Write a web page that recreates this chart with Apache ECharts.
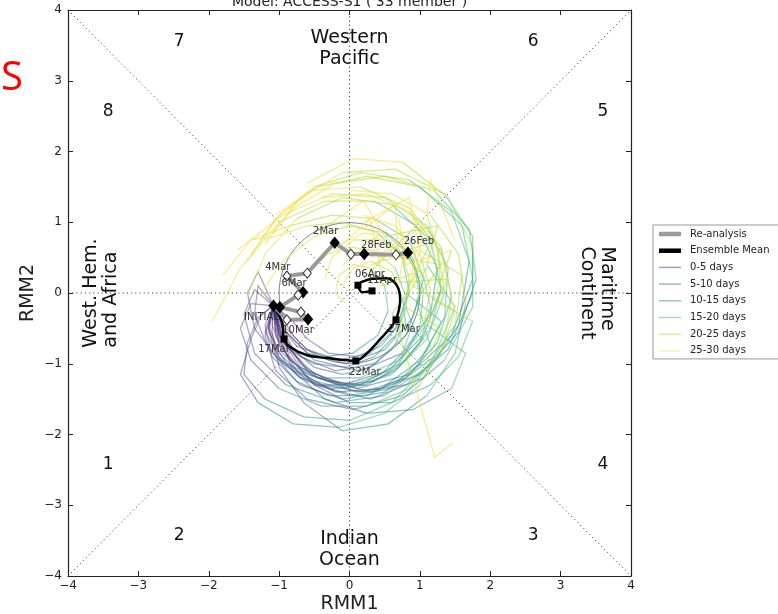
<!DOCTYPE html>
<html><head><meta charset="utf-8">
<script src="https://cdn.jsdelivr.net/npm/echarts@6/dist/echarts.min.js"></script>
<style>html,body{margin:0;padding:0;background:#fff}#c{width:778px;height:614px}</style>
</head><body><div id="c"></div>
<script>
// ---------------- DATA ----------------
const axisTicks = [-4, -3, -2, -1, 0, 1, 2, 3, 4];
const axisNames = ['RMM1', 'RMM2'];
const leadBins = ['0-5 days', '5-10 days', '10-15 days', '15-20 days', '20-25 days', '25-30 days'];
const leadDays = [0, 2.5, 5, 7.5, 10, 12.5, 15, 17.5, 20, 22.5, 25, 27.5, 30];

const reanalysisTrack = [[0.83,0.57],[0.66,0.54],[0.21,0.55],[0.02,0.55],[-0.21,0.71],[-0.60,0.28],[-0.89,0.24],[-0.66,0.01],[-0.73,-0.03],[-0.99,-0.20],[-0.69,-0.27],[-0.59,-0.37],[-0.89,-0.38],[-1.08,-0.18]];
const reanalysisFilled = [1,0,1,0,1,0,0,1,0,1,0,1,0,1];
const reanalysisDates = ['26Feb','','28Feb','','2Mar','','4Mar','6Mar','','','','10Mar','','INITIAL'];

const meanTrack = [[-1.08,-0.18],[-0.96,-0.41],[-0.93,-0.65],[-0.85,-0.76],[-0.60,-0.88],[-0.32,-0.92],[0.09,-0.96],[0.25,-0.85],[0.43,-0.66],[0.58,-0.49],[0.66,-0.38],[0.72,-0.10],[0.67,0.11],[0.53,0.21],[0.32,0.20],[0.12,0.11],[0.18,0.01],[0.32,0.03]];
const meanDates = ['','','17Mar','','','','22Mar','','','','27Mar','','','01Apr','','06Apr','','11Apr'];
const meanMarked = [0,0,1,0,0,0,1,0,0,0,1,0,0,0,0,1,0,1];

const member01 = [[-1.08,-0.18],[-1.15,-0.45],[-1.0,-0.85],[-0.6,-1.25],[0.0,-1.45],[0.6,-1.35],[1.2,-0.9],[1.5,-0.2],[1.1,0.4],[1.25,0.95],[0.5,0.8],[0.2,1.3],[-0.4,0.9]];
const member02 = [[-1.08,-0.18],[-1.0,-0.6],[-0.6,-1.1],[0.1,-1.35],[0.85,-1.15],[1.45,-0.6],[1.75,0.2],[1.6,0.95],[1.0,1.5],[0.25,1.65],[-0.45,1.5],[-1.0,1.1],[-1.4,0.55]];
const member03 = [[-1.08,-0.18],[-1.0,-0.6],[-0.7,-1.05],[-0.1,-1.3],[0.55,-1.1],[1.05,-0.6],[1.3,0.05],[1.15,0.75],[0.6,1.25],[-0.1,1.35],[-0.75,1.05],[-1.2,0.55],[-1.45,-0.05]];
const member04 = [[-1.08,-0.18],[-0.95,-0.5],[-0.8,-0.8],[-0.5,-1.05],[-0.1,-1.15],[0.3,-1.05],[0.6,-0.8],[0.8,-0.45],[0.75,-0.05],[0.6,0.3],[0.3,0.45],[0.05,0.35],[-0.1,0.1]];
const member05 = [[-1.08,-0.18],[-1.3,-0.35],[-1.45,-0.7],[-1.5,-1.15],[-1.2,-1.5],[-0.65,-1.75],[0.0,-1.8],[0.6,-1.55],[1.05,-1.1],[1.3,-0.5],[0.8,-0.2],[0.95,0.6],[0.3,0.4]];
const member06 = [[-1.08,-0.18],[-1.0,-0.75],[-0.5,-1.3],[0.3,-1.5],[1.05,-1.2],[1.55,-0.45],[1.7,0.45],[1.45,1.15],[0.85,1.6],[0.15,1.7],[-0.5,1.5],[-1.05,1.05],[-1.45,0.45]];
const member07 = [[-1.08,-0.18],[-1.2,-0.55],[-0.95,-1.0],[-0.45,-1.3],[0.15,-1.3],[0.7,-1.0],[1.0,-0.5],[1.05,0.05],[0.85,0.5],[0.45,0.75],[0.05,0.75],[-0.25,0.5],[-0.35,0.2]];
const member08 = [[-1.08,-0.18],[-1.35,0.05],[-1.5,-0.3],[-1.35,-0.85],[-0.9,-1.3],[-0.2,-1.55],[0.5,-1.45],[1.1,-1.05],[1.5,-0.45],[1.6,0.25],[1.0,0.6],[0.85,1.35],[0.2,1.0]];
const member09 = [[-1.08,-0.18],[-1.05,-0.55],[-0.85,-0.95],[-0.45,-1.2],[0.05,-1.3],[0.45,-1.15],[0.75,-0.85],[0.9,-0.45],[0.8,-0.2],[0.7,-0.55],[0.9,-1.2],[1.21,-2.32],[1.47,-2.12]];
const member10 = [[-1.08,-0.18],[-0.9,-0.55],[-0.5,-0.95],[0.15,-1.1],[0.75,-0.85],[1.15,-0.3],[1.25,0.35],[0.95,0.95],[0.35,1.3],[-0.35,1.3],[-1.0,1.0],[-1.55,0.35],[-1.95,-0.4]];
const member11 = [[-1.08,-0.18],[-1.2,-0.6],[-1.05,-1.1],[-0.6,-1.5],[0.05,-1.65],[0.75,-1.45],[1.35,-0.95],[1.75,-0.2],[1.75,0.65],[1.4,1.35],[0.75,1.85],[0.05,1.9],[-0.6,1.55]];
const member12 = [[-1.08,-0.18],[-1.15,-0.5],[-1.05,-0.9],[-0.75,-1.25],[-0.3,-1.45],[0.25,-1.45],[0.75,-1.2],[1.15,-0.75],[0.95,-0.1],[1.3,0.4],[0.7,0.5],[0.65,1.25],[0.2,0.9]];
const member13 = [[-1.08,-0.18],[-1.0,-0.45],[-0.75,-0.75],[-0.35,-0.9],[0.05,-0.85],[0.4,-0.6],[0.55,-0.25],[0.5,0.1],[0.3,0.35],[0.05,0.4],[-0.15,0.25],[-0.2,0.0],[-0.05,-0.15]];
const member14 = [[-1.08,-0.18],[-1.25,-0.3],[-1.4,-0.65],[-1.55,-1.15],[-1.3,-1.55],[-0.8,-1.85],[-0.15,-1.9],[0.5,-1.7],[1.0,-1.3],[1.35,-0.7],[1.45,-0.05],[1.3,0.6],[0.9,1.05]];
const member15 = [[-1.08,-0.18],[-1.05,-0.6],[-0.75,-1.1],[-0.2,-1.4],[0.45,-1.35],[1.0,-0.95],[1.35,-0.35],[1.4,0.35],[1.1,0.95],[0.5,1.35],[-0.25,1.4],[-0.95,1.1],[-1.6,0.6]];
const member16 = [[-1.08,-0.18],[-0.95,-0.7],[-0.45,-1.2],[0.3,-1.4],[1.0,-1.15],[1.55,-0.55],[1.8,0.2],[1.7,0.9],[1.2,1.45],[0.5,1.65],[-0.2,1.55],[-0.8,1.2],[-1.2,0.7]];
const member17 = [[-1.08,-0.18],[-0.95,-0.6],[-0.7,-1.0],[-0.3,-1.25],[0.2,-1.3],[0.65,-1.1],[1.0,-0.7],[1.15,-0.2],[1.05,0.25],[0.8,0.5],[0.55,0.55],[0.35,0.4],[0.3,0.15]];
const member18 = [[-1.08,-0.18],[-1.3,0.1],[-1.35,-0.3],[-1.15,-0.8],[-0.7,-1.2],[-0.05,-1.35],[0.6,-1.15],[1.1,-0.65],[1.35,0.0],[1.25,0.65],[0.85,1.15],[0.25,1.4],[-0.4,1.35]];
const member19 = [[-1.08,-0.18],[-0.85,-0.35],[-0.6,-0.65],[-0.3,-0.85],[0.1,-0.9],[0.45,-0.75],[0.7,-0.45],[0.8,-0.05],[0.65,0.35],[0.35,0.6],[0.0,0.65],[-0.3,0.55],[-0.55,0.35]];
const member20 = [[-1.08,-0.18],[-1.1,-0.55],[-1.0,-1.05],[-0.65,-1.55],[-0.1,-1.95],[0.55,-1.85],[1.1,-1.45],[1.5,-0.85],[1.65,-0.15],[1.55,0.55],[1.15,1.1],[0.6,1.4],[0.0,1.45]];
const member21 = [[-1.08,-0.18],[-1.0,-0.6],[-0.8,-1.1],[-0.35,-1.5],[0.25,-1.7],[0.9,-1.65],[1.45,-1.35],[1.65,-0.85],[1.1,-0.45],[1.4,0.2],[0.7,0.15],[0.8,0.7],[0.3,0.5]];
const member22 = [[-1.08,-0.18],[-0.95,-0.5],[-0.6,-0.85],[-0.05,-1.0],[0.5,-0.8],[0.9,-0.35],[1.05,0.2],[0.85,0.75],[0.35,1.05],[-0.25,1.1],[-0.85,0.95],[-1.4,0.75],[-1.8,0.25]];
const member23 = [[-1.08,-0.18],[-1.15,-0.55],[-0.9,-1.0],[-0.4,-1.3],[0.2,-1.4],[0.8,-1.2],[1.25,-0.7],[1.45,-0.05],[1.3,0.65],[0.85,1.2],[0.15,1.5],[-0.55,1.45],[-1.05,1.1]];
const member24 = [[-1.08,-0.18],[-1.1,-0.45],[-0.95,-0.85],[-0.6,-1.15],[-0.15,-1.3],[0.35,-1.25],[0.8,-0.95],[1.15,-0.5],[1.3,0.05],[1.25,0.6],[1.1,1.1],[1.15,1.6],[1.5,0.75]];
const member25 = [[-1.08,-0.18],[-1.05,-0.5],[-0.85,-0.8],[-0.5,-1.0],[-0.05,-1.05],[0.35,-0.9],[0.65,-0.6],[0.8,-0.2],[0.85,0.2],[0.75,0.55],[0.5,0.8],[0.2,0.85],[-0.1,0.7]];
const member26 = [[-1.08,-0.18],[-1.4,-0.15],[-1.55,-0.5],[-1.4,-0.95],[-1.0,-1.35],[-0.4,-1.6],[0.25,-1.6],[0.85,-1.35],[1.3,-0.85],[1.5,-0.25],[0.9,0.1],[1.05,0.95],[0.5,0.6]];
const member27 = [[-1.08,-0.18],[-0.95,-0.65],[-0.55,-1.15],[0.1,-1.4],[0.8,-1.3],[1.4,-0.8],[1.75,0.0],[1.75,0.8],[1.35,1.4],[0.65,1.75],[-0.1,1.7],[-0.7,1.35],[-1.1,0.85]];
const member28 = [[-1.08,-0.18],[-1.0,-0.55],[-0.7,-0.9],[-0.2,-1.1],[0.35,-1.0],[0.8,-0.6],[1.0,-0.05],[0.9,0.5],[0.5,0.85],[0.0,0.95],[-0.5,0.8],[-0.95,0.45],[-1.25,0.0]];
const member29 = [[-1.08,-0.18],[-1.2,-0.45],[-1.1,-0.9],[-0.7,-1.3],[-0.1,-1.5],[0.5,-1.4],[1.0,-1.0],[1.3,-0.4],[0.8,0.0],[1.15,0.7],[0.4,0.5],[0.3,1.05],[-0.2,0.6]];
const member30 = [[-1.08,-0.18],[-1.0,-0.5],[-0.85,-0.9],[-0.5,-1.3],[0.0,-1.55],[0.6,-1.55],[1.15,-1.3],[1.55,-0.9],[1.75,-0.4],[1.2,-0.1],[1.45,0.6],[0.8,0.4],[0.7,1.05]];
const member31 = [[-1.08,-0.18],[-1.3,0.3],[-1.45,0.0],[-1.35,-0.5],[-1.0,-0.95],[-0.45,-1.2],[0.15,-1.2],[0.7,-0.95],[1.05,-0.5],[1.15,0.05],[1.0,0.55],[0.65,0.95],[0.2,1.1]];
const member32 = [[-1.08,-0.18],[-0.9,-0.5],[-0.6,-0.8],[-0.15,-0.95],[0.3,-0.85],[0.65,-0.5],[0.85,0.0],[0.75,0.5],[0.4,0.85],[-0.1,1.0],[-0.6,0.95],[-1.05,0.8],[-1.4,0.75]];
const member33 = [[-1.08,-0.18],[-1.15,-0.5],[-1.0,-0.9],[-0.7,-1.2],[-0.25,-1.35],[0.25,-1.3],[0.7,-1.05],[1.05,-0.65],[0.6,-0.3],[1.1,0.35],[0.45,0.1],[0.4,0.8],[-0.1,0.4]];
const members = [member01,member02,member03,member04,member05,member06,member07,member08,member09,member10,member11,member12,member13,member14,member15,member16,member17,member18,member19,member20,member21,member22,member23,member24,member25,member26,member27,member28,member29,member30,member31,member32,member33];

const phaseNames = ['1','2','3','4','5','6','7','8'];
const titleText = 'Model: ACCESS-S1 ( 33 member )';

// ---------------- STYLE / LAYOUT ----------------
const FONT = 'DejaVu Sans';
const binColors = ['#482878', '#3e5a8f', '#25898c', '#3fbc73', '#b0dd2f', '#f3e04a'];
const binOpacity = [0.42, 0.5, 0.5, 0.5, 0.55, 0.6];
const labelOffsets = {
  '26Feb':[11,-11], '28Feb':[12,-9], '2Mar':[-9,-11], '4Mar':[-9,-9], '6Mar':[-9,-9],
  '10Mar':[-10,11], 'INITIAL':[-12,12],
  '17Mar':[-10,10], '22Mar':[9,11], '27Mar':[8,10], '01Apr':[5,-11], '06Apr':[12,-11], '11Apr':[10,-10]
};
const phasePos = [[-3.43,-2.42],[-2.42,-3.43],[2.61,-3.43],[3.60,-2.42],[3.60,2.57],[2.61,3.56],[-2.42,3.56],[-3.43,2.57]];

const minusFmt = v => v < 0 ? '\u2212' + (-v) : String(v);

const chart = echarts.init(document.getElementById('c'), null, {renderer: 'canvas'});

const binSeries = leadBins.map((name, b) => ({
  type: 'lines', name, coordinateSystem: 'cartesian2d', polyline: true, silent: true, z: 2,
  lineStyle: {color: binColors[b], width: 1.3, opacity: binOpacity[b]},
  data: members.map(m => ({coords: m.filter((p, i) => leadDays[i] >= b * 5 && leadDays[i] <= b * 5 + 5)}))
}));

const labelStyle = {fontSize: 10, color: '#333', fontFamily: FONT};

const refLine = (pts) => ({
  type: 'line', data: pts, symbol: 'none', silent: true, z: 1,
  lineStyle: {color: '#444', width: 1, type: [1.2, 3]}
});

const axisCommon = {
  type: 'value', min: axisTicks[0], max: axisTicks[axisTicks.length - 1], interval: 1,
  splitLine: {show: false},
  axisLine: {show: true, onZero: false, lineStyle: {color: '#222', width: 1.2}},
  axisTick: {show: true, inside: true, length: 5, lineStyle: {color: '#222'}}
};

const option = {
  animation: false,
  backgroundColor: '#fff',
  grid: {left: 68, right: 147, top: 10, bottom: 38},
  xAxis: [
    Object.assign({}, axisCommon, {position: 'bottom',
      axisLabel: {fontSize: 12, color: '#222', fontFamily: FONT, margin: 4, formatter: minusFmt}}),
    Object.assign({}, axisCommon, {position: 'top', axisLabel: {show: false}})
  ],
  yAxis: [
    Object.assign({}, axisCommon, {position: 'left',
      axisLabel: {fontSize: 12, color: '#222', fontFamily: FONT, margin: 6, formatter: minusFmt}}),
    Object.assign({}, axisCommon, {position: 'right', axisLabel: {show: false}})
  ],
  legend: {
    orient: 'vertical', left: 653, top: 225, padding: [3, 40, 2, 6], itemGap: 4.7,
    itemWidth: 22, itemHeight: 12, borderColor: '#999', borderWidth: 1, borderRadius: 0,
    backgroundColor: '#fff', selectedMode: false,
    textStyle: {fontSize: 10, color: '#222', fontFamily: FONT, lineHeight: 12, padding: [0, 0, 0, 4]},
    data: [
      {name: 'Re-analysis', icon: 'path://M0,0H22V4.5H0Z', itemStyle: {color: '#9a9a9a', borderWidth: 0}},
      {name: 'Ensemble Mean', icon: 'path://M0,0H22V4.5H0Z', itemStyle: {color: '#000', borderWidth: 0}}
    ].concat(leadBins.map((n, b) => ({name: n, icon: 'path://M0,0H22V1.4H0Z',
      itemStyle: {color: binColors[b], opacity: 0.5, borderWidth: 0}})))
  },
  series: [
    refLine([[-4,-4],[4,4]]), refLine([[-4,4],[4,-4]]), refLine([[-4,0],[4,0]]), refLine([[0,-4],[0,4]])
  ].concat(binSeries).concat([
    {
      type: 'line', name: 'Mean', id: 'mean', z: 4, smooth: 0.3, showAllSymbol: true,
      lineStyle: {color: '#000', width: 2.5},
      itemStyle: {color: '#000'},
      data: meanTrack.map((p, i) => ({
        value: p, symbol: meanMarked[i] ? 'rect' : 'none', symbolSize: 7,
        label: meanDates[i] ? Object.assign({show: true, formatter: meanDates[i], position: 'inside',
          offset: labelOffsets[meanDates[i]]}, labelStyle) : {show: false}
      }))
    },
    {
      type: 'line', name: 'Re-analysis', z: 5, showAllSymbol: true,
      lineStyle: {color: '#9a9a9a', width: 4},
      itemStyle: {color: '#9a9a9a'},
      data: reanalysisTrack.map((p, i) => ({
        value: p, symbol: 'diamond', symbolSize: reanalysisFilled[i] ? [9, 11] : [8, 10],
        itemStyle: reanalysisFilled[i] ? {color: '#000', borderColor: '#000', borderWidth: 1}
                                       : {color: '#fff', borderColor: '#333', borderWidth: 1},
        label: reanalysisDates[i] ? Object.assign({show: true, formatter: reanalysisDates[i], position: 'inside',
          offset: labelOffsets[reanalysisDates[i]]}, labelStyle) : {show: false}
      }))
    },
    {type: 'line', name: 'Ensemble Mean', data: [], lineStyle: {color: '#000', width: 3}, itemStyle: {color: '#000'}}
  ])
};

chart.setOption(option);

// ---------------- TEXT OVERLAYS ----------------
const px = p => chart.convertToPixel({gridIndex: 0}, p);
const c0 = px([0, 0]);
const r1 = px([1, 0])[0] - c0[0];
const mctx = document.createElement('canvas').getContext('2d');
function textW(s, size) { mctx.font = size + 'px "' + FONT + '"'; return mctx.measureText(s).width; }

function rotatedBlock(lines, center, rotation) {
  const w = Math.max.apply(null, lines.map(l => textW(l, 19)));
  return {
    type: 'group', x: center[0], y: center[1], rotation, z: 100,
    children: [{type: 'text', x: -w / 2, y: 0, style: {text: lines.join('\n'), fontSize: 19, lineHeight: 20,
      fontFamily: FONT, fill: '#111', align: 'left', verticalAlign: 'middle'}}]
  };
}

const bottomY = px([0, -4])[1];
const leftX = px([-4, 0])[0];
const graphics = [
  {type: 'circle', shape: {cx: c0[0], cy: c0[1], r: r1}, style: {fill: 'none', stroke: '#777', lineWidth: 0.9}, z: 1, silent: true},
  {type: 'text', x: c0[0], y: 9, z: 100, style: {text: titleText, fontSize: 14, fontFamily: FONT, fill: '#222', align: 'center', verticalAlign: 'bottom'}},
  {type: 'text', x: 12, y: 79, z: 100, style: {text: 'S', fontSize: 40, fontFamily: 'Open Sans', fill: '#ff0000', align: 'center', verticalAlign: 'middle'}},
  {type: 'text', x: c0[0], y: bottomY + 28, z: 100, style: {text: axisNames[0], fontSize: 19, fontFamily: FONT, fill: '#222', align: 'center', verticalAlign: 'middle'}},
  {type: 'text', x: leftX - 40, y: c0[1], rotation: Math.PI / 2, z: 100, style: {text: axisNames[1], fontSize: 19, fontFamily: FONT, fill: '#222', align: 'center', verticalAlign: 'middle'}}
];
phaseNames.forEach((n, i) => {
  const p = px(phasePos[i]);
  graphics.push({type: 'text', x: p[0], y: p[1], z: 100, style: {text: n, fontSize: 17, fontFamily: FONT, fill: '#111', align: 'center', verticalAlign: 'middle'}});
});
const wp = px([0, 3.46]);
graphics.push({type: 'text', x: wp[0], y: wp[1], z: 100, style: {text: 'Western\nPacific', fontSize: 19, lineHeight: 21, fontFamily: FONT, fill: '#111', align: 'center', verticalAlign: 'middle'}});
const io = px([0, -3.62]);
graphics.push({type: 'text', x: io[0], y: io[1], z: 100, style: {text: 'Indian\nOcean', fontSize: 19, lineHeight: 21, fontFamily: FONT, fill: '#111', align: 'center', verticalAlign: 'middle'}});
graphics.push(rotatedBlock(['West. Hem.', 'and Africa'], px([-3.53, 0.0]), Math.PI / 2));
graphics.push(rotatedBlock(['Maritime', 'Continent'], px([3.52, 0.0]), -Math.PI / 2));

chart.setOption({graphic: graphics});
</script>
</body></html>
